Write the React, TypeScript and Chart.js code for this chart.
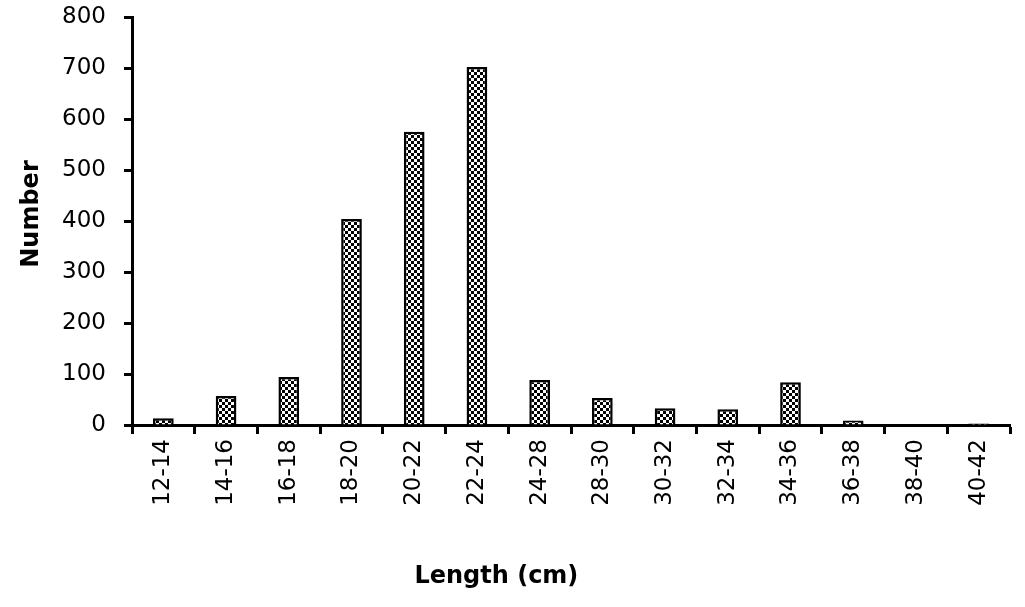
import { useEffect, useRef } from "react"
import { Chart, registerables } from "chart.js"

Chart.register(...registerables)

// length classes and fish counts
const lengthClasses = ["12-14", "14-16", "16-18", "18-20", "20-22", "22-24", "24-28", "28-30", "30-32", "32-34", "34-36", "36-38", "38-40", "40-42"]
const counts = [13, 57, 94, 404, 575, 702, 88, 53, 33, 31, 84, 9, 0, 3]
const yTicks = [0, 100, 200, 300, 400, 500, 600, 700, 800]

const FONT = "'DejaVu Sans', Verdana, sans-serif"

// small black/white checkerboard used as the bar fill
function makeChecker(): CanvasPattern | string {
  const tile = document.createElement("canvas")
  tile.width = 6
  tile.height = 6
  const tctx = tile.getContext("2d")
  if (!tctx) return "#888"
  tctx.fillStyle = "#fff"
  tctx.fillRect(0, 0, 6, 6)
  tctx.fillStyle = "#000"
  tctx.fillRect(0, 0, 3, 3)
  tctx.fillRect(3, 3, 3, 3)
  return tctx.createPattern(tile, "repeat") || "#888"
}

// axis titles drawn at fixed spots like the original figure
const axisTitles = {
  id: "axisTitles",
  afterDraw(chart: any) {
    const { ctx, chartArea } = chart
    ctx.save()
    ctx.fillStyle = "#000"
    ctx.font = `bold 24px ${FONT}`
    ctx.textAlign = "center"
    ctx.textBaseline = "middle"
    ctx.fillText("Length (cm)", chartArea.left + (chartArea.right - chartArea.left) * 0.415, 577)
    ctx.translate(32, 214)
    ctx.rotate(-Math.PI / 2)
    ctx.fillText("Number", 0, 0)
    ctx.restore()
  },
}

export default function App() {
  const canvasRef = useRef<HTMLCanvasElement>(null)

  useEffect(() => {
    if (!canvasRef.current) return
    const fill = makeChecker()

    const chart = new Chart(canvasRef.current, {
      type: "bar",
      data: {
        labels: lengthClasses,
        datasets: [
          {
            data: counts,
            backgroundColor: fill,
            borderColor: "#000",
            borderWidth: 2.5,
            categoryPercentage: 1,
            barPercentage: 0.33,
          },
        ],
      },
      options: {
        responsive: true,
        maintainAspectRatio: false,
        animation: false,
        layout: { padding: { top: 17, right: 15, left: 0, bottom: 0 } },
        plugins: {
          legend: { display: false },
          tooltip: { enabled: false },
        },
        scales: {
          x: {
            grid: {
              offset: true,
              drawOnChartArea: false,
              drawTicks: true,
              tickLength: 9,
              tickWidth: 3,
              tickColor: "#000",
            },
            border: { color: "#000", width: 3 },
            ticks: {
              color: "#000",
              font: { family: FONT, size: 23 },
              minRotation: 90,
              maxRotation: 90,
              padding: 5,
              autoSkip: false,
            },
            afterFit: (scale: any) => {
              scale.height = 182
              scale.paddingLeft = 0
              scale.paddingRight = 0
            },
          },
          y: {
            min: 0,
            max: 800,
            afterBuildTicks: (scale: any) => {
              scale.ticks = yTicks.map((v) => ({ value: v }))
            },
            grid: {
              drawOnChartArea: false,
              drawTicks: true,
              tickLength: 8,
              tickWidth: 3,
              tickColor: "#000",
            },
            border: { color: "#000", width: 3 },
            ticks: {
              color: "#000",
              font: { family: FONT, size: 23 },
              padding: 18,
            },
            afterFit: (scale: any) => {
              scale.width = 132
              scale.paddingTop = 0
              scale.paddingBottom = 0
            },
          },
        },
      },
      plugins: [axisTitles],
    })

    return () => chart.destroy()
  }, [])

  return (
    <div style={{ position: "absolute", left: 0, top: 0, width: 1025, height: 607, background: "#fff" }}>
      <canvas ref={canvasRef}></canvas>
    </div>
  )
}
